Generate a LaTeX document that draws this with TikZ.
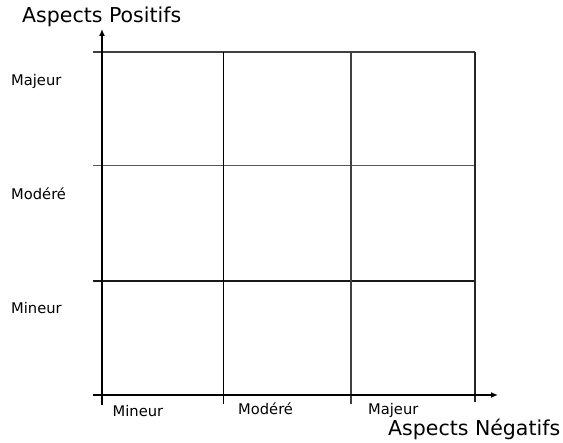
\documentclass[tikz,border=0pt]{standalone}
\usepackage{fontspec}
\setmainfont{DejaVu Sans}
\usetikzlibrary{arrows.meta}
\begin{document}
\begin{tikzpicture}[x=1bp,y=-1bp,
  axis/.style={line width=2bp,black,-{Latex[length=7bp,width=6bp]}},
  grid/.style={line width=1.5bp},
  lbl/.style={font=\fontsize{14.7bp}{16bp}\selectfont,anchor=base west,inner sep=0pt},
  ttl/.style={font=\fontsize{20.5bp}{22bp}\selectfont,anchor=base west,inner sep=0pt}]
\useasboundingbox (0,0) rectangle (563,443);
% coordinates
\coordinate (o) at (102,395);
\coordinate (ytip) at (102,29);
\coordinate (xtip) at (498,395);
% grid horizontals
\draw[grid,black!75] (93,52) -- (475,52);
\draw[grid,black!65] (93,165.5) -- (475,165.5);
\draw[grid,black!90] (93,281) -- (475,281);
% grid verticals
\draw[line width=1.2bp,black] (223.5,52) -- (223.5,404);
\draw[line width=1.2bp,black!75] (351,52) -- (351,404);
\draw[line width=2bp,black!85] (475,52) -- (475,402);
% axes
\draw[line width=2bp] (102,405) -- (o);
\draw[axis] (o) -- (ytip);
\draw[axis] (93,395) -- (xtip);
% labels
\node[ttl] (tp) at (22,23) {Aspects Positifs};
\node[ttl] (tn) at (388,435) {Aspects Négatifs};
\node[lbl] (l1) at (11,86) {Majeur};
\node[lbl] (l2) at (11,199.5) {Modéré};
\node[lbl] (l3) at (11,313) {Mineur};
\node[lbl] (b1) at (112.5,416.5) {Mineur};
\node[lbl] (b2) at (238,414.5) {Modéré};
\node[lbl] (b3) at (368,414.5) {Majeur};
\end{tikzpicture}
\end{document}
